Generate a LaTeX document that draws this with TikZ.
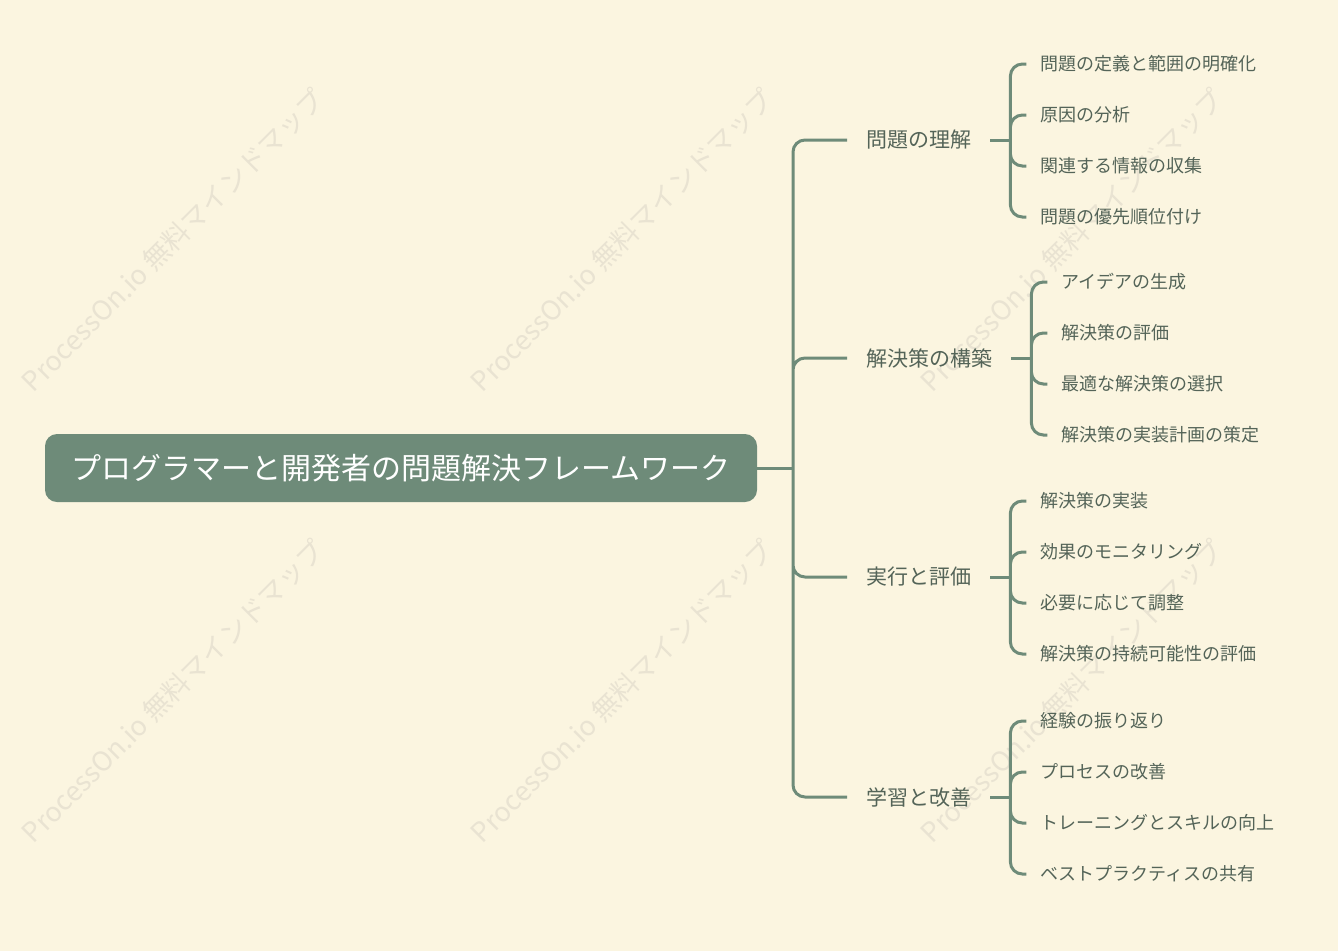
\documentclass[tikz,border=0pt]{standalone}
\usepackage{fontspec}
\setmainfont{Noto Sans CJK JP}
\usetikzlibrary{calc}
\definecolor{mmbg}{RGB}{251,245,224}
\definecolor{mmgreen}{RGB}{110,139,121}
\definecolor{mmtext}{RGB}{84,100,88}
\definecolor{mmwater}{RGB}{233,227,210}

\begin{document}
\begin{tikzpicture}[
    x=1pt, y=-1pt,
    root/.style={fill=mmgreen, rounded corners=12pt, minimum width=712pt,
      minimum height=68pt, text=white, font=\fontsize{30}{35}\selectfont},
    topic/.style={anchor=west, inner xsep=19pt, text=mmtext,
      font=\fontsize{21}{25}\selectfont},
    leaf/.style={anchor=west, inner xsep=14pt, text=mmtext,
      font=\fontsize{18}{22}\selectfont},
    wmark/.style={rotate=45, text=mmwater, font=\fontsize{27}{31}\selectfont},
    link/.style={draw=mmgreen, line width=3pt},
    elbow/.style={link, rounded corners=12pt},
  ]

  % page and background
  \useasboundingbox (0,0) rectangle (1338,951);
  \fill[mmbg] (0,0) rectangle (1338,951);

  % watermarks
  \node[wmark] (w1) at (173,240) {ProcessOn.io 無料マインドマップ};
  \node[wmark] (w2) at (622,240) {ProcessOn.io 無料マインドマップ};
  \node[wmark] (w3) at (1072,240) {ProcessOn.io 無料マインドマップ};
  \node[wmark] (w4) at (173,691) {ProcessOn.io 無料マインドマップ};
  \node[wmark] (w5) at (622,691) {ProcessOn.io 無料マインドマップ};
  \node[wmark] (w6) at (1072,691) {ProcessOn.io 無料マインドマップ};

  % central topic
  \node[root] (root) at (401,468) {プログラマーと開発者の問題解決フレームワーク};
  \coordinate (hub) at (793,468);
  \draw[link] (root.east) -- (hub);

  % main branches
  \node[topic] (t1) at (847,140) {問題の理解};
  \node[topic] (t2) at (847,358) {解決策の構築};
  \node[topic] (t3) at (847,577) {実行と評価};
  \node[topic] (t4) at (847,797) {学習と改善};
  \draw[elbow] (hub) |- (t1.west) (hub) |- (t2.west)
               (hub) |- (t3.west) (hub) |- (t4.west);

  % bracket points
  \coordinate (b1) at ($(t1.east)+(20,0)$);
  \coordinate (b2) at ($(t2.east)+(20,0)$);
  \coordinate (b3) at ($(t3.east)+(20,0)$);
  \coordinate (b4) at ($(t4.east)+(20,0)$);
  \draw[link] (t1.east) -- (b1) (t2.east) -- (b2)
              (t3.east) -- (b3) (t4.east) -- (b4);

  % understanding the problem
  \node[leaf] (l11) at ($(b1)+(16,-76)$) {問題の定義と範囲の明確化};
  \node[leaf] (l12) at ($(b1)+(16,-25)$) {原因の分析};
  \node[leaf] (l13) at ($(b1)+(16,26)$) {関連する情報の収集};
  \node[leaf] (l14) at ($(b1)+(16,77)$) {問題の優先順位付け};
  \draw[elbow] (b1) |- (l11.west) (b1) |- (l12.west)
               (b1) |- (l13.west) (b1) |- (l14.west);

  % building solutions
  \node[leaf] (l21) at ($(b2)+(16,-76)$) {アイデアの生成};
  \node[leaf] (l22) at ($(b2)+(16,-25)$) {解決策の評価};
  \node[leaf] (l23) at ($(b2)+(16,26)$) {最適な解決策の選択};
  \node[leaf] (l24) at ($(b2)+(16,77)$) {解決策の実装計画の策定};
  \draw[elbow] (b2) |- (l21.west) (b2) |- (l22.west)
               (b2) |- (l23.west) (b2) |- (l24.west);

  % execution and evaluation
  \node[leaf] (l31) at ($(b3)+(16,-76)$) {解決策の実装};
  \node[leaf] (l32) at ($(b3)+(16,-25)$) {効果のモニタリング};
  \node[leaf] (l33) at ($(b3)+(16,26)$) {必要に応じて調整};
  \node[leaf] (l34) at ($(b3)+(16,77)$) {解決策の持続可能性の評価};
  \draw[elbow] (b3) |- (l31.west) (b3) |- (l32.west)
               (b3) |- (l33.west) (b3) |- (l34.west);

  % learning and improvement
  \node[leaf] (l41) at ($(b4)+(16,-76)$) {経験の振り返り};
  \node[leaf] (l42) at ($(b4)+(16,-25)$) {プロセスの改善};
  \node[leaf] (l43) at ($(b4)+(16,26)$) {トレーニングとスキルの向上};
  \node[leaf] (l44) at ($(b4)+(16,77)$) {ベストプラクティスの共有};
  \draw[elbow] (b4) |- (l41.west) (b4) |- (l42.west)
               (b4) |- (l43.west) (b4) |- (l44.west);

\end{tikzpicture}
\end{document}
